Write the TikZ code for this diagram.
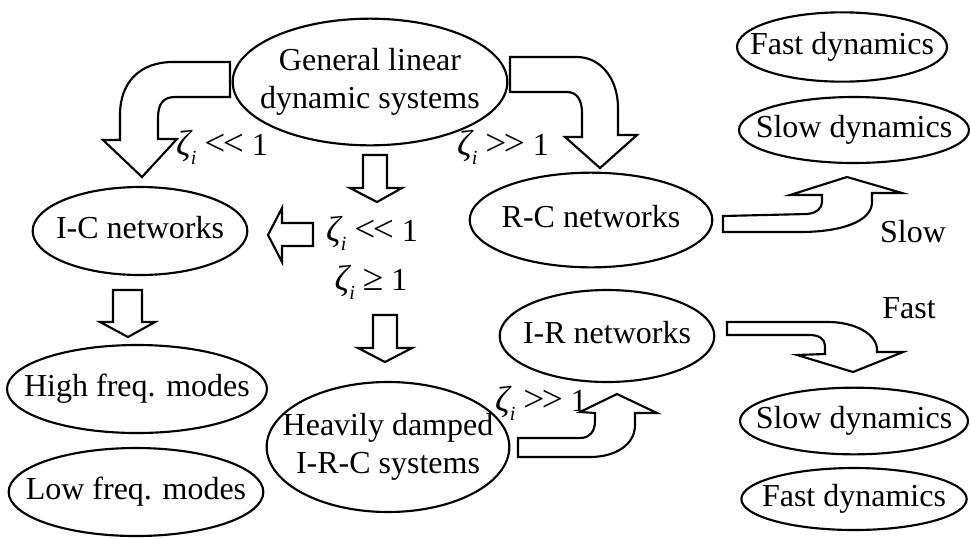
\documentclass[tikz,border=0pt]{standalone}
\usepackage{fontspec}
\setmainfont{Liberation Serif}
\usetikzlibrary{shapes.geometric}
% text set in a zero-width box, so that the ellipse keeps its given size
\newcommand\inoval[1]{\makebox[0pt][c]{\begin{tabular}{@{}c@{}}#1\end{tabular}}}
% damping ratio symbol with index
\newcommand\zetai{{\fontsize{27}{28}\selectfont\itshape ζ}\raisebox{-0.28em}{\fontsize{15}{15}\selectfont\itshape i}}
\newcommand\relsym[1]{{\fontsize{28}{28}\selectfont #1}}
\newcommand\lless{\relsym{<\kern-2pt<}}
\newcommand\ggreater{\relsym{>\kern-2pt>}}
\tikzset{
  oval/.style={ellipse, draw, line width=1.6pt, inner sep=0pt,
    font=\fontsize{24}{28}\selectfont},
  lbl/.style={inner sep=0pt, font=\fontsize{24}{28}\selectfont},
  blockarrow/.style={draw, fill=white, line width=1.6pt, line join=miter}
}
\begin{document}
\begin{tikzpicture}[x=0.75pt, y=-0.75pt]
\useasboundingbox (0,0) rectangle (970,537);

% ---- ellipses ----
\node[oval, minimum width=206pt, minimum height=95pt] (gen) at (370,82) {\inoval{General linear\\dynamic systems}};
\node[oval, minimum width=157.5pt, minimum height=52pt] (fastA) at (842,47) {\inoval{Fast dynamics}};
\node[oval, minimum width=172.5pt, minimum height=49.5pt] (slowA) at (854,130) {\inoval{Slow dynamics}};
\node[oval, minimum width=182pt, minimum height=71pt] (rc) at (591,220) {\inoval{R-C networks}};
\node[oval, minimum width=161pt, minimum height=66pt] (ic) at (140,231) {\inoval{I-C networks}};
\node[oval, minimum width=195pt, minimum height=66pt] (high) at (137,389) {\inoval{High freq. modes}};
\node[oval, minimum width=191pt, minimum height=66pt] (low) at (136,492) {\inoval{Low freq. modes}};
\node[oval, minimum width=182pt, minimum height=97.5pt] (heavy) at (388,447) {\inoval{Heavily damped\\I-R-C systems}};
\node[oval, minimum width=161pt, minimum height=69pt] (ir) at (607,336) {\inoval{I-R networks}};
\node[oval, minimum width=171pt, minimum height=50pt] (slowB) at (854,421) {\inoval{Slow dynamics}};
\node[oval, minimum width=169pt, minimum height=46.5pt] (fastB) at (854,499) {\inoval{Fast dynamics}};

% ---- labels ----
\node[lbl] (zA) at (222,147) {\zetai{} \lless{} 1};
\node[lbl] (zB) at (503,147) {\zetai{} \ggreater{} 1};
\node[lbl] (zC) at (372,233) {\zetai{} \lless{} 1};
\node[lbl] (zD) at (371,282) {\zetai{} \relsym{≥} 1};
\node[lbl] (zE) at (541,403) {\zetai{} \ggreater{} 1};
\node[lbl] (slowlbl) at (913,232) {Slow};
\node[lbl] (fastlbl) at (909,308) {Fast};

% ---- block arrows ----
% general -> I-C (bent left and down)
\draw[blockarrow] (230,62) -- (173,62) .. controls (140,62) and (120,82) .. (120,115)
  -- (120,140) -- (103,140) -- (142,177) -- (177,139) -- (158,139) -- (158,118)
  .. controls (158,104) and (163,97) .. (175,97) -- (230,97) -- cycle;
% general -> R-C (bent right and down)
\draw[blockarrow] (510,57) -- (577,57) .. controls (600,57) and (618,78) .. (618,108)
  -- (618,135) -- (637,135) -- (600,168) -- (565,137) -- (582,137) -- (582,113)
  .. controls (582,100) and (577,92) .. (567,92) -- (510,92) -- cycle;
% general -> damping cases
\draw[blockarrow] (363,155) -- (387,155) -- (387,188) -- (402,188) -- (377,202)
  -- (350,188) -- (363,188) -- cycle;
% damping cases -> I-C
\draw[blockarrow] (313,223) -- (313,246) -- (282,246) -- (282,262) -- (268,235)
  -- (282,208) -- (282,223) -- cycle;
% I-C -> modes
\draw[blockarrow] (113,290) -- (142,290) -- (142,322) -- (155,322) -- (128,337)
  -- (100,322) -- (113,322) -- cycle;
% damping cases -> heavily damped
\draw[blockarrow] (373,315) -- (397,315) -- (397,348) -- (412,348) -- (385,362)
  -- (358,348) -- (373,348) -- cycle;
% heavily damped -> I-R (bent up)
\draw[blockarrow] (518,438) -- (580,438) .. controls (590,438) and (595,431) .. (595,421)
  -- (595,413) -- (580,412) -- (617,394) -- (657,413) -- (635,413) -- (635,425)
  .. controls (635,445) and (615,457) .. (590,457) -- (518,457) -- cycle;
% R-C -> slow dynamics (bent up)
\draw[blockarrow] (723,216) -- (807,214) .. controls (817,213) and (822,208) .. (822,202)
  -- (822,195) -- (790,195) -- (847,177) -- (902,193) -- (872,193) -- (872,202)
  .. controls (872,222) and (840,232) .. (800,232) -- (723,232) -- cycle;
% I-R -> slow/fast dynamics (bent down)
\draw[blockarrow] (727,322) -- (828,322) .. controls (855,322) and (877,334) .. (877,350)
  -- (877,352) -- (903,352) -- (853,372) -- (797,355) -- (825,354) -- (825,346)
  .. controls (825,339) and (819,335) .. (810,335) -- (727,335) -- cycle;
\end{tikzpicture}
\end{document}
